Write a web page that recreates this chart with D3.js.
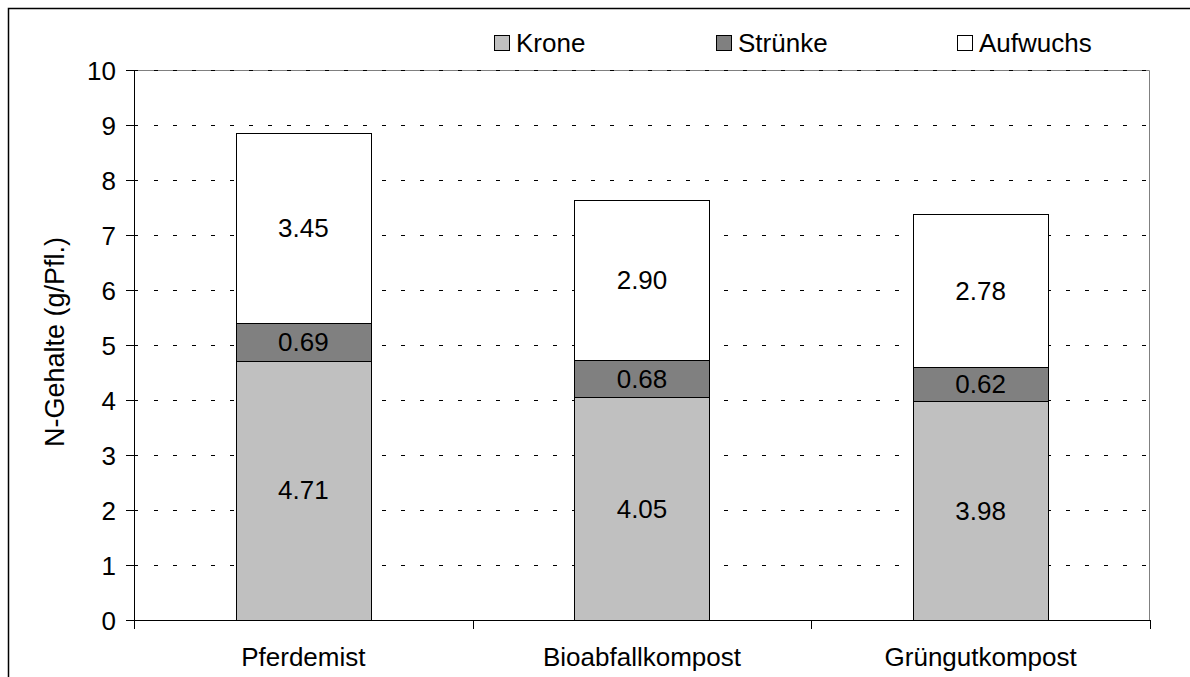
<!DOCTYPE html>
<html>
<head>
<meta charset="utf-8">
<script src="https://cdn.jsdelivr.net/npm/d3@7"></script>
<style>
  body { margin: 0; background: #fff; }
  text { font-family: "Liberation Sans", Arial, sans-serif; fill: #000; }
</style>
</head>
<body>
<svg id="chart" width="1190" height="677"></svg>
<script>
// data
let categories = ["Pferdemist", "Bioabfallkompost", "Grüngutkompost"];
let seriesNames = ["Krone", "Strünke", "Aufwuchs"];
let krone = [4.71, 4.05, 3.98];
let struenke = [0.69, 0.68, 0.62];
let aufwuchs = [3.45, 2.90, 2.78];
let yTicks = [0, 1, 2, 3, 4, 5, 6, 7, 8, 9, 10];
let colors = ["#c0c0c0", "#808080", "#ffffff"];

let margin = {top: 70, right: 40, bottom: 57, left: 134};
let width = 1190 - margin.left - margin.right;
let height = 677 - margin.top - margin.bottom;
let fs = 26;

let svg = d3.select("#chart");

// outer frame
svg.append("rect")
  .attr("x", 8.5).attr("y", 8.5)
  .attr("width", 1200).attr("height", 700)
  .attr("fill", "none").attr("stroke", "#000").attr("stroke-width", 1.5);

let g = svg.append("g").attr("transform", `translate(${margin.left},${margin.top})`);

let x = d3.scaleBand().domain(categories).range([0, width]).paddingInner(0.6).paddingOuter(0.3);
let y = d3.scaleLinear().domain([0, 10]).range([height, 0]);

// plot area border (top + right)
g.append("path")
  .attr("d", `M0,0.5H${width - 0.5}V${height}`)
  .attr("fill", "none").attr("stroke", "#808080");

// gridlines
g.selectAll(".grid").data(yTicks.filter(d => d > 0)).enter().append("line")
  .attr("x1", 20).attr("x2", width)
  .attr("y1", d => Math.round(y(d)) + 0.5).attr("y2", d => Math.round(y(d)) + 0.5)
  .attr("stroke", "#000").attr("stroke-dasharray", "4,15");

// stacked bars
let rows = categories.map((c, i) => ({cat: c, Krone: krone[i], "Strünke": struenke[i], Aufwuchs: aufwuchs[i]}));
let stack = d3.stack().keys(seriesNames)(rows);

stack.forEach((layer, si) => {
  let lg = g.append("g");
  lg.selectAll("rect").data(layer).enter().append("rect")
    .attr("x", d => Math.round(x(d.data.cat)) + 0.5)
    .attr("width", Math.round(x.bandwidth()))
    .attr("y", d => Math.round(y(d[1])) + 0.5)
    .attr("height", d => Math.round(y(d[0])) - Math.round(y(d[1])))
    .attr("fill", colors[si]).attr("stroke", "#000");
  lg.selectAll("text").data(layer).enter().append("text")
    .attr("x", d => x(d.data.cat) + x.bandwidth() / 2)
    .attr("y", d => y((d[0] + d[1]) / 2) + 9)
    .attr("text-anchor", "middle")
    .attr("font-size", fs)
    .text(d => (d[1] - d[0]).toFixed(2));
});

// y axis
let yAxis = g.append("g")
  .call(d3.axisLeft(y).tickValues(yTicks).tickSize(8).tickPadding(10));
yAxis.select(".domain").attr("stroke", "#000").attr("d", `M0.5,0V${height}`);
yAxis.selectAll(".tick line").attr("stroke", "#000").attr("x2", -8).attr("x1", 4);
yAxis.selectAll("text").attr("font-size", fs).attr("dy", "0.36em");

// x axis
let xAxis = g.append("g").attr("transform", `translate(0,${height})`)
  .call(d3.axisBottom(x).tickSize(0).tickPadding(28));
xAxis.select(".domain").attr("stroke", "#000").attr("d", `M0,0.5H${width}`);
xAxis.selectAll("text").attr("font-size", fs);
let step = width / categories.length;
xAxis.selectAll(".sep").data(d3.range(categories.length + 1)).enter().append("line")
  .attr("x1", d => Math.round(d * step) + 0.5).attr("x2", d => Math.round(d * step) + 0.5)
  .attr("y1", 0).attr("y2", 9).attr("stroke", "#000");

// y title
svg.append("text")
  .attr("transform", `translate(64,${margin.top + height / 2 - 3}) rotate(-90)`)
  .attr("text-anchor", "middle")
  .attr("font-size", 27)
  .text("N-Gehalte (g/Pfl.)");

// legend
let legendX = [494, 716, 957];
let lgd = svg.append("g");
seriesNames.forEach((s, i) => {
  lgd.append("rect")
    .attr("x", legendX[i] + 0.5).attr("y", 35.5).attr("width", 15).attr("height", 15)
    .attr("fill", colors[i]).attr("stroke", "#000");
  lgd.append("text")
    .attr("x", legendX[i] + 22).attr("y", 52)
    .attr("font-size", fs)
    .text(s);
});
</script>
</body>
</html>
